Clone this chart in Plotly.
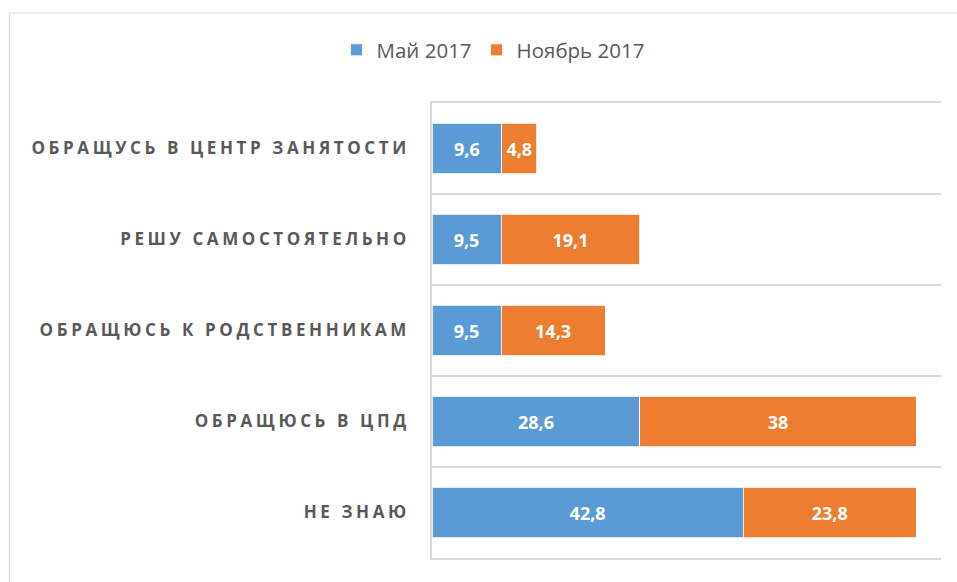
import plotly.graph_objects as go

categories = [
    "ОБРАЩУСЬ В ЦЕНТР ЗАНЯТОСТИ",
    "РЕШУ САМОСТОЯТЕЛЬНО",
    "ОБРАЩЮСЬ К РОДСТВЕННИКАМ",
    "ОБРАЩЮСЬ В ЦПД",
    "НЕ ЗНАЮ",
]
may_2017 = [9.6, 9.5, 9.5, 28.6, 42.8]
nov_2017 = [4.8, 19.1, 14.3, 38, 23.8]
series_names = ["Май 2017", "Ноябрь 2017"]
colors = ["#5B9BD5", "#ED7D31"]


def fmt(v):
    return f"{v:g}".replace(".", ",")


fig = go.Figure()
for name, vals, col in zip(series_names, [may_2017, nov_2017], colors):
    fig.add_trace(go.Bar(
        y=categories, x=vals, name=name, orientation="h",
        marker=dict(color=col, line=dict(color="white", width=0.8)),
        text=[fmt(v) for v in vals], textposition="inside",
        insidetextanchor="middle", textangle=0,
        textfont=dict(family="Open Sans", size=18, color="white", weight="bold"),
        hoverinfo="skip",
    ))

W, H = 957, 582
L, R, T, B = 432, 16, 103, 24
pw, ph = W - L - R, H - T - B


def px2x(px):
    return (px - L) / pw


def py2y(py):
    return (H - B - py) / ph


fig.update_layout(
    width=W, height=H,
    margin=dict(l=L, r=R, t=T, b=B),
    barmode="stack", bargap=0.44,
    plot_bgcolor="white", paper_bgcolor="white",
    showlegend=True,
    legend=dict(orientation="h", x=px2x(493), xanchor="center",
                y=py2y(50), yanchor="middle",
                font=dict(family="Open Sans", size=20.5, color="#595959"),
                itemwidth=30, traceorder="normal"),
    xaxis=dict(range=[0, 70], showgrid=False, showticklabels=False,
               zeroline=False, showline=True, mirror=True,
               linecolor="#D9D9D9", linewidth=1.5, ticks="", fixedrange=True),
    yaxis=dict(autorange="reversed", tickson="boundaries",
               showgrid=True, gridcolor="#D9D9D9", gridwidth=1.5,
               showline=True, linecolor="#D9D9D9", linewidth=1.5,
               ticks="", ticklabelstandoff=17,
               tickfont=dict(family="Open Sans", size=17, color="#595959", weight="bold")),
    shapes=[dict(type="rect", xref="paper", yref="paper",
                 x0=px2x(9.5), x1=px2x(W + 20), y0=py2y(H + 20), y1=py2y(13),
                 line=dict(color="#D9D9D9", width=1.2), layer="below")],
)

post = """
document.body.style.margin='0';
document.querySelectorAll('.ytick text').forEach(function(t){
  t.style.letterSpacing='3.6px';
});
"""
fig.write_html("out.html", post_script=post, config={"displayModeBar": False})
